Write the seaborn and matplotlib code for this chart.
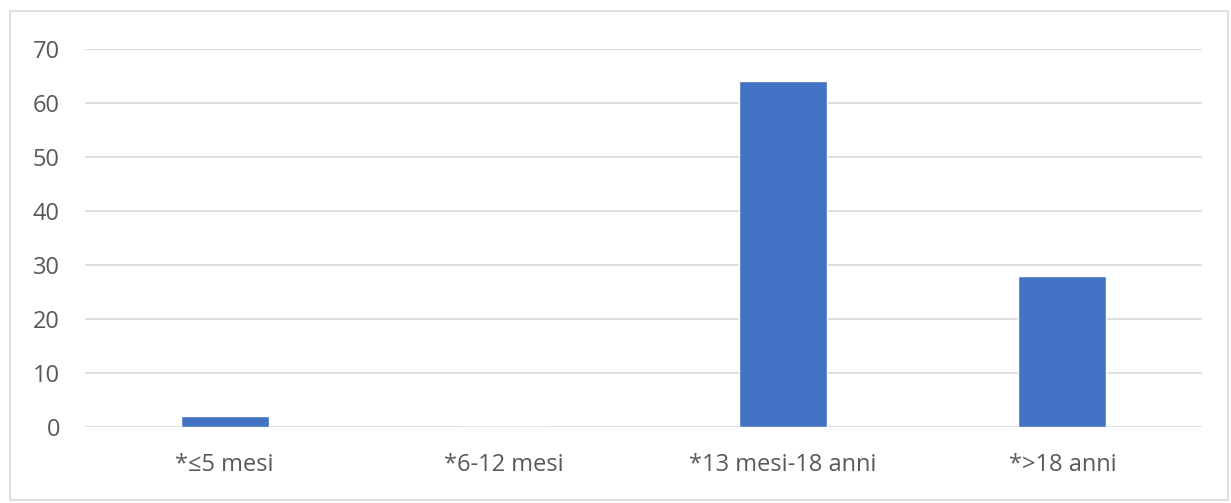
import matplotlib
matplotlib.use("Agg")
import matplotlib.pyplot as plt
import seaborn as sns
import pandas as pd
from matplotlib.patches import Rectangle

categories = ["*≤5 mesi", "*6-12 mesi", "*13 mesi-18 anni", "*>18 anni"]
values = [2, 0, 64, 28]
yticks = [0, 10, 20, 30, 40, 50, 60, 70]

df = pd.DataFrame({"cat": categories, "val": values})

sns.set_theme(style="white")
plt.rcParams['font.family'] = ['Open Sans', 'DejaVu Sans']

fig = plt.figure(figsize=(12.31, 5.03), dpi=100)
ax = fig.add_axes([0.069, 0.151, 0.9075, 0.7516])
sns.barplot(data=df, x="cat", y="val", color="#4472C4", width=0.315, saturation=1, ax=ax, zorder=3)
ax.set_ylim(0, 70)
ax.set_xlim(-0.5, 3.5)
ax.set_yticks(yticks)
ax.yaxis.grid(True, color="#D9D9D9", linewidth=1.2, zorder=0)
ax.set_axisbelow(True)
for s in ax.spines.values():
    s.set_visible(False)
ax.set_xlabel("")
ax.set_ylabel("")
ax.tick_params(axis='y', colors="#595959", labelsize=17, length=0, pad=18)
ax.tick_params(axis='x', colors="#595959", labelsize=17, length=0, pad=19)
for lab in ax.get_yticklabels() + ax.get_xticklabels():
    lab.set_color("#595959")

fig.patches.append(Rectangle((10/1231, 3/503), 1218/1231, 489/503, transform=fig.transFigure,
                             fill=False, edgecolor="#D9D9D9", linewidth=1.2))
fig.savefig("out.png", dpi=100)
